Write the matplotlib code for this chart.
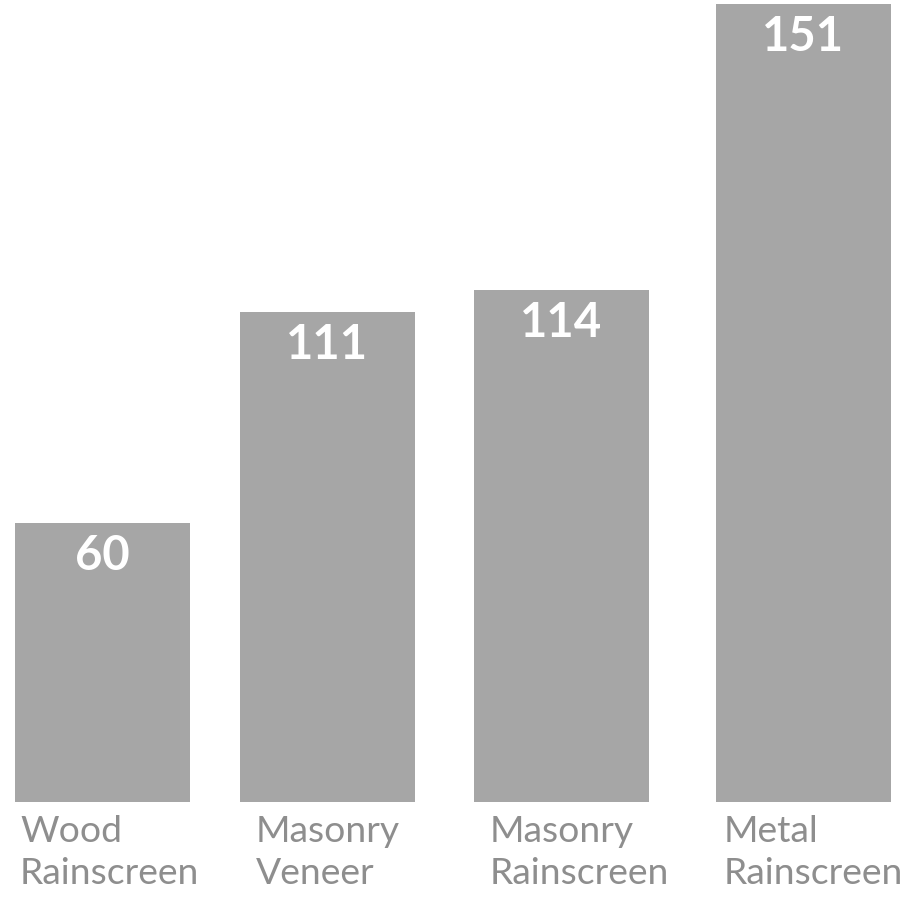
import matplotlib.pyplot as plt

categories = ["Wood\nRainscreen", "Masonry\nVeneer", "Masonry\nRainscreen", "Metal\nRainscreen"]
values = [60, 111, 114, 151]
# drawn bar lengths as they appear in the picture (tallest = 100)
bar_heights = [35.0, 61.4, 64.2, 100.0]

# layout (figure pixels)
centers = [102.5, 327.5, 561.5, 803.5]
label_offset = [5, 16, 16, 8]
bar_w = 175

fig = plt.figure(figsize=(9.12, 8.97), dpi=100)
ax = fig.add_axes([0, 95 / 897, 1, 798 / 897])
ax.set_xlim(0, 912)
ax.set_ylim(0, 100)
ax.axis('off')

ax.bar(centers, bar_heights, width=bar_w, color='#a6a6a6')

for c, h, v in zip(centers, bar_heights, values):
    ax.annotate(str(v), (c, h), xytext=(0, -11), textcoords='offset pixels',
                ha='center', va='top', color='white', fontsize=34,
                fontweight='bold', family='Lato')

for c, off, lab in zip(centers, label_offset, categories):
    ax.annotate(lab, (c - bar_w / 2 + off, 0), xytext=(0, -13),
                textcoords='offset pixels', ha='left', va='top',
                color='#8e8e8e', fontsize=26.8, fontweight='normal',
                family='Lato', linespacing=1.35)

fig.savefig('out.png', dpi=100)
